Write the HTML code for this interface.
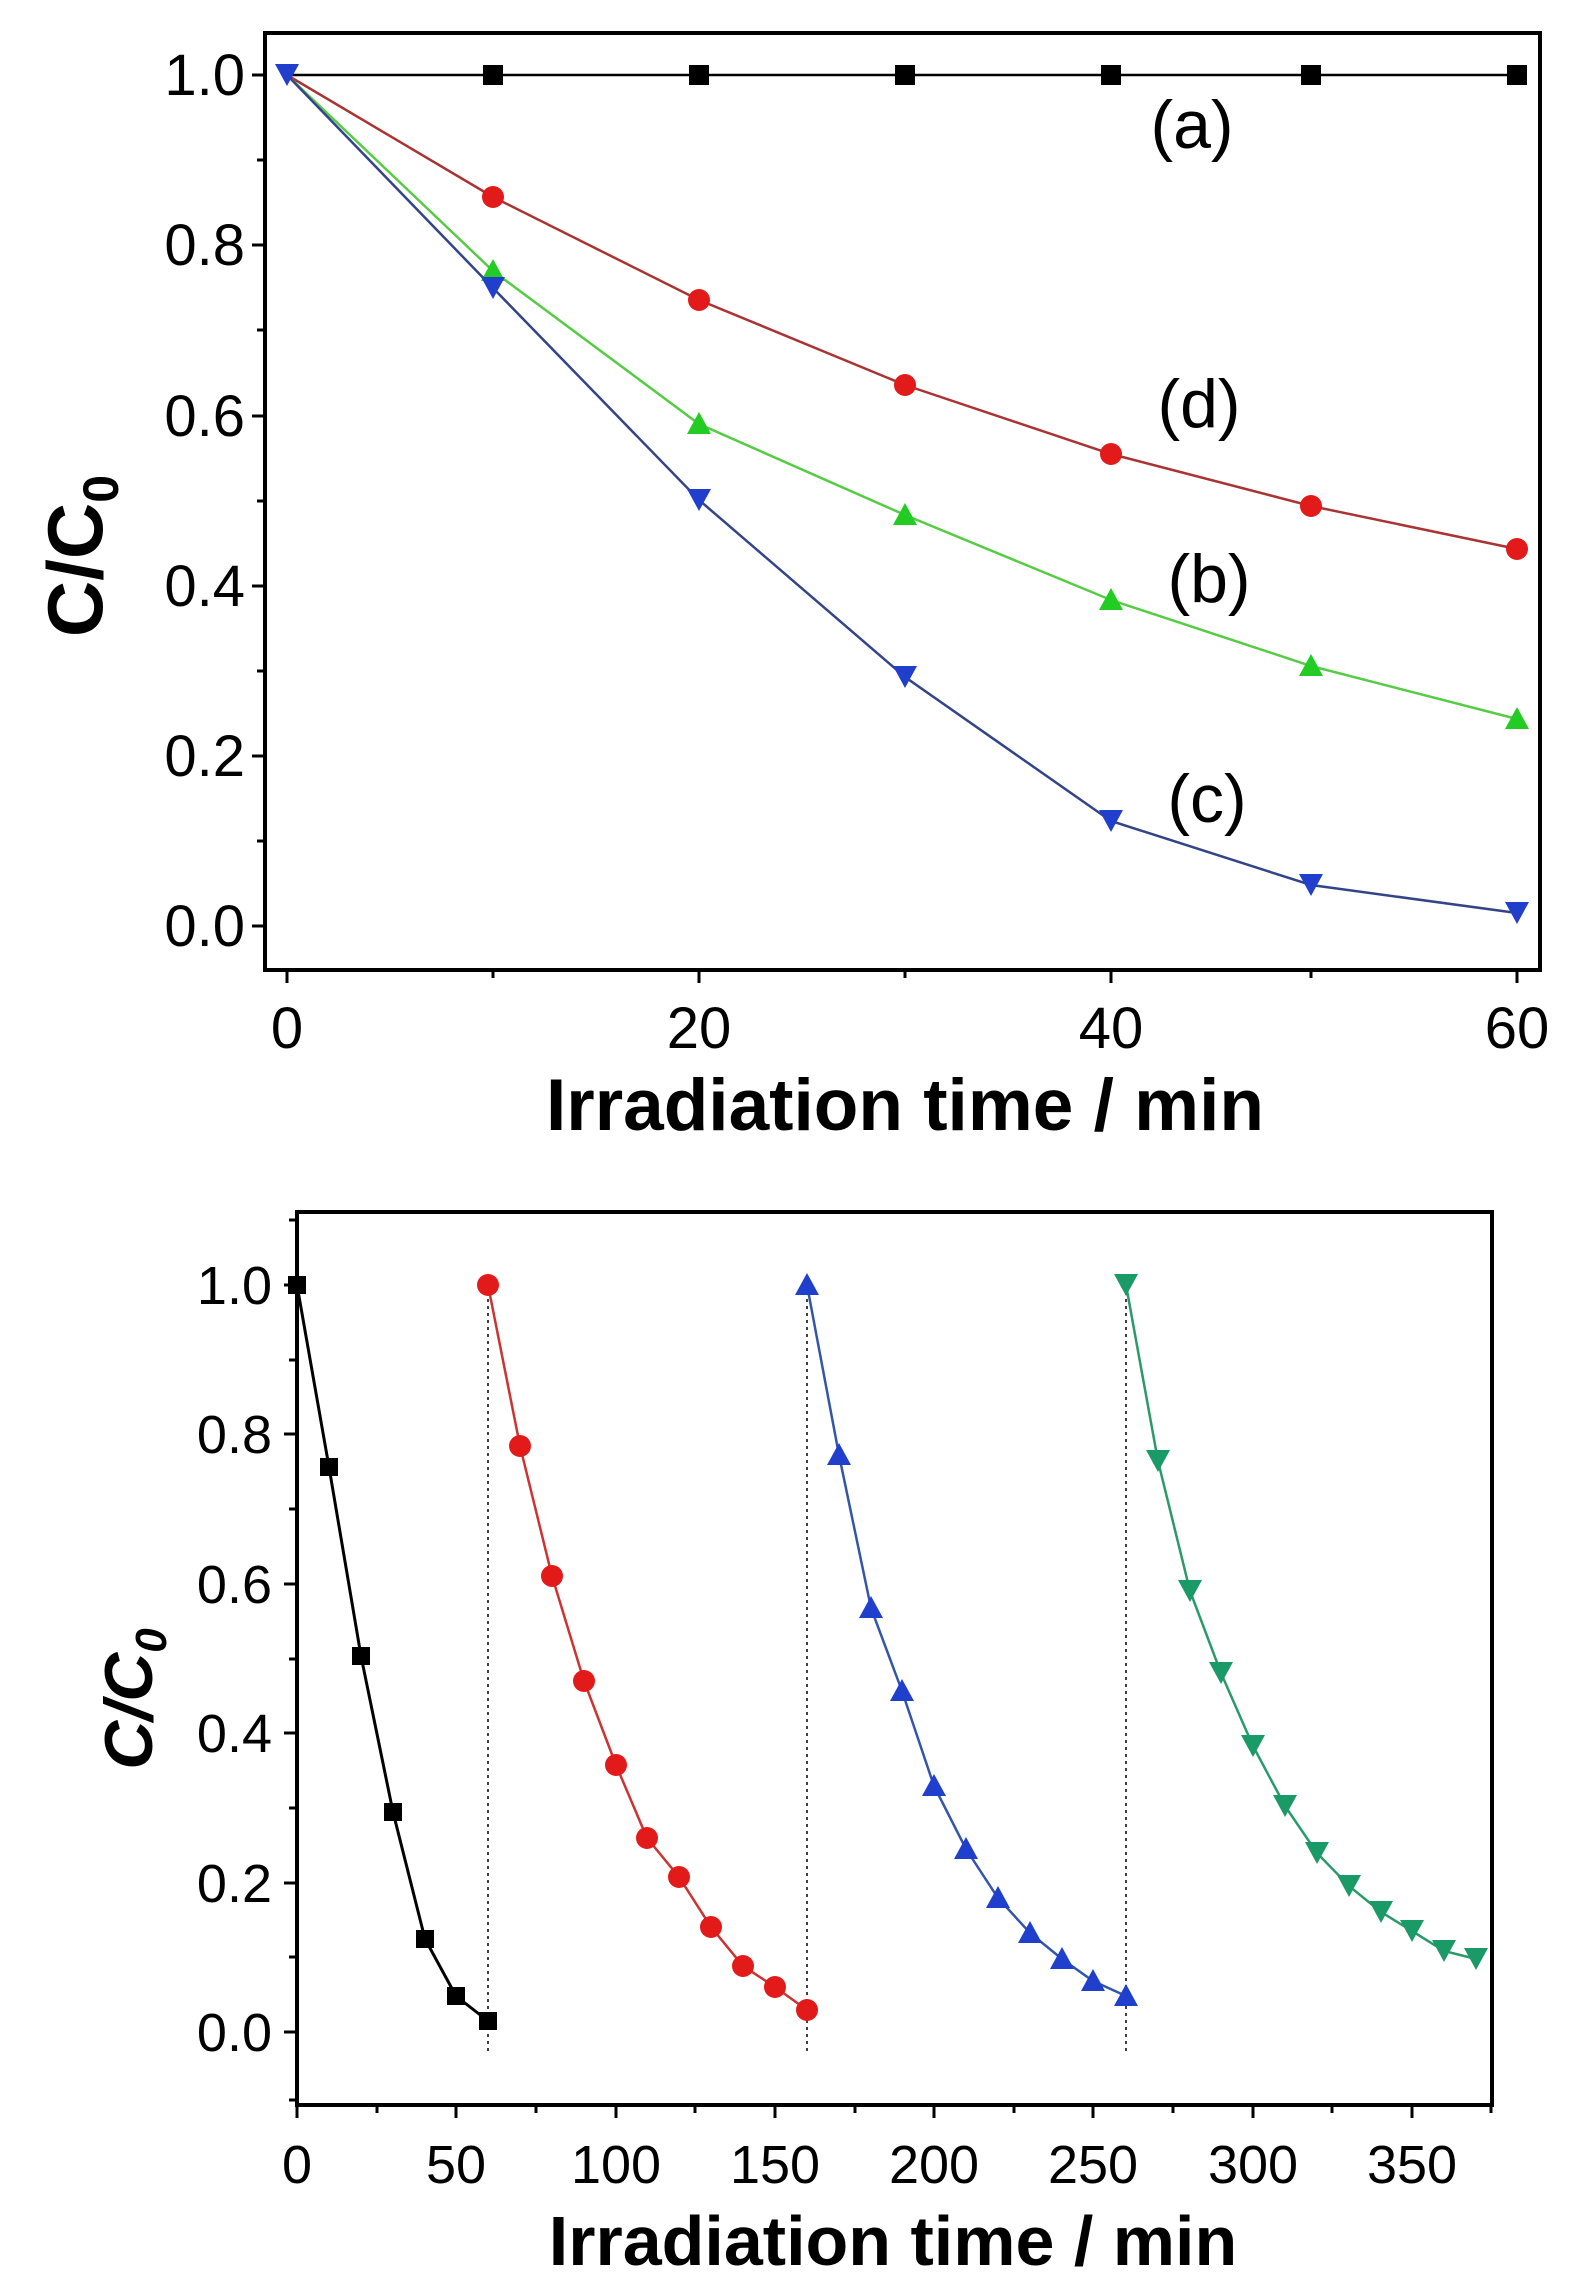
<!DOCTYPE html>
<html><head><meta charset="utf-8"><style>
html,body{margin:0;padding:0;background:#fff;}
svg{display:block;font-family:"Liberation Sans",Arial,sans-serif;}
</style></head><body>
<svg width="1571" height="2277" viewBox="0 0 1571 2277" xmlns="http://www.w3.org/2000/svg">
<rect width="1571" height="2277" fill="#fff"/>
<!-- TOP PLOT -->
<g id="top">
<rect x="265" y="33" width="1275" height="937" fill="none" stroke="#000" stroke-width="4"/>
<g stroke="#000" stroke-width="3">
<line x1="265" y1="75" x2="252" y2="75"/><line x1="265" y1="245" x2="252" y2="245"/><line x1="265" y1="416" x2="252" y2="416"/><line x1="265" y1="586" x2="252" y2="586"/><line x1="265" y1="756" x2="252" y2="756"/><line x1="265" y1="926" x2="252" y2="926"/>
<line x1="265" y1="160" x2="257" y2="160"/><line x1="265" y1="330" x2="257" y2="330"/><line x1="265" y1="501" x2="257" y2="501"/><line x1="265" y1="671" x2="257" y2="671"/><line x1="265" y1="841" x2="257" y2="841"/>
<line x1="287" y1="970" x2="287" y2="983"/><line x1="699" y1="970" x2="699" y2="983"/><line x1="1111" y1="970" x2="1111" y2="983"/><line x1="1517" y1="970" x2="1517" y2="983"/>
<line x1="493" y1="970" x2="493" y2="978"/><line x1="905" y1="970" x2="905" y2="978"/><line x1="1311" y1="970" x2="1311" y2="978"/>
</g>
<g font-size="58" text-anchor="end" fill="#000">
<text x="245" y="95">1.0</text><text x="245" y="265">0.8</text><text x="245" y="436">0.6</text><text x="245" y="606">0.4</text><text x="245" y="776">0.2</text><text x="245" y="946">0.0</text>
</g>
<g font-size="58" text-anchor="middle" fill="#000">
<text x="287" y="1048">0</text><text x="699" y="1048">20</text><text x="1111" y="1048">40</text><text x="1517" y="1048">60</text>
</g>
<text x="905" y="1130" font-size="73" font-weight="bold" text-anchor="middle">Irradiation time / min</text>
<text transform="translate(102,556) rotate(-90)" font-size="78" font-weight="bold" text-anchor="middle">C/C<tspan font-size="50" dy="16">0</tspan></text>
<polyline points="287,75 1517,75" fill="none" stroke="#000" stroke-width="2.5"/>
<g fill="#000"><rect x="483" y="65" width="20" height="20"/><rect x="689" y="65" width="20" height="20"/><rect x="895" y="65" width="20" height="20"/><rect x="1101" y="65" width="20" height="20"/><rect x="1301" y="65" width="20" height="20"/><rect x="1507" y="65" width="20" height="20"/></g>
<polyline points="287,75 493,197 699,300 905,385 1111,454 1311,506 1517,549" fill="none" stroke="#a33" stroke-width="2.5"/>
<g fill="#e31a1a"><circle cx="493" cy="197" r="11"/><circle cx="699" cy="300" r="11"/><circle cx="905" cy="385" r="11"/><circle cx="1111" cy="454" r="11"/><circle cx="1311" cy="506" r="11"/><circle cx="1517" cy="549" r="11"/></g>
<polyline points="287,75 493,271 699,424 905,515 1111,600 1311,666 1517,719" fill="none" stroke="#55cc44" stroke-width="2.5"/>
<g fill="#22cc22">
<polygon points="493,259 505,281 481,281"/><polygon points="699,412 711,434 687,434"/><polygon points="905,503 917,525 893,525"/><polygon points="1111,588 1123,610 1099,610"/><polygon points="1311,654 1323,676 1299,676"/><polygon points="1517,707 1529,729 1505,729"/>
</g>
<polyline points="287,75 493,288 699,500 905,677 1111,821 1311,885 1517,913" fill="none" stroke="#334488" stroke-width="2.5"/>
<g fill="#1f3fcc">
<polygon points="287,86 275,64 299,64"/>
<polygon points="493,299 481,277 505,277"/><polygon points="699,511 687,489 711,489"/><polygon points="905,688 893,666 917,666"/><polygon points="1111,832 1099,810 1123,810"/><polygon points="1311,896 1299,874 1323,874"/><polygon points="1517,924 1505,902 1529,902"/>
</g>
<g font-size="68" fill="#000" text-anchor="middle">
<text x="1192" y="148">(a)</text><text x="1199" y="427">(d)</text><text x="1209" y="602">(b)</text><text x="1207" y="822">(c)</text>
</g>
</g>
<!-- BOTTOM PLOT -->
<g id="bottom">
<rect x="297" y="1212" width="1195" height="893" fill="none" stroke="#000" stroke-width="4"/>
<g stroke="#000" stroke-width="3">
<line x1="297" y1="1285" x2="284" y2="1285"/><line x1="297" y1="1434" x2="284" y2="1434"/><line x1="297" y1="1584" x2="284" y2="1584"/><line x1="297" y1="1733" x2="284" y2="1733"/><line x1="297" y1="1883" x2="284" y2="1883"/><line x1="297" y1="2032" x2="284" y2="2032"/>
<line x1="297" y1="1360" x2="289" y2="1360"/><line x1="297" y1="1509" x2="289" y2="1509"/><line x1="297" y1="1659" x2="289" y2="1659"/><line x1="297" y1="1808" x2="289" y2="1808"/><line x1="297" y1="1957" x2="289" y2="1957"/><line x1="297" y1="1220" x2="289" y2="1220"/><line x1="297" y1="2100" x2="289" y2="2100"/>
</g>
<g stroke="#000" stroke-width="3">
<line x1="297" y1="2105" x2="297" y2="2118"/><line x1="456" y1="2105" x2="456" y2="2118"/><line x1="616" y1="2105" x2="616" y2="2118"/><line x1="775" y1="2105" x2="775" y2="2118"/><line x1="934" y1="2105" x2="934" y2="2118"/><line x1="1093" y1="2105" x2="1093" y2="2118"/><line x1="1253" y1="2105" x2="1253" y2="2118"/><line x1="1412" y1="2105" x2="1412" y2="2118"/>
<line x1="377" y1="2105" x2="377" y2="2113"/><line x1="536" y1="2105" x2="536" y2="2113"/><line x1="695" y1="2105" x2="695" y2="2113"/><line x1="855" y1="2105" x2="855" y2="2113"/><line x1="1014" y1="2105" x2="1014" y2="2113"/><line x1="1173" y1="2105" x2="1173" y2="2113"/><line x1="1332" y1="2105" x2="1332" y2="2113"/><line x1="1491" y1="2105" x2="1491" y2="2113"/>
</g>
<g font-size="54" text-anchor="end">
<text x="272" y="1304">1.0</text><text x="272" y="1453">0.8</text><text x="272" y="1603">0.6</text><text x="272" y="1752">0.4</text><text x="272" y="1902">0.2</text><text x="272" y="2051">0.0</text>
</g>
<g font-size="54" text-anchor="middle">
<text x="297" y="2183">0</text><text x="456" y="2183">50</text><text x="616" y="2183">100</text><text x="775" y="2183">150</text><text x="934" y="2183">200</text><text x="1093" y="2183">250</text><text x="1253" y="2183">300</text><text x="1412" y="2183">350</text>
</g>
<text x="893" y="2265" font-size="70" font-weight="bold" text-anchor="middle">Irradiation time / min</text>
<text transform="translate(152,1699) rotate(-90)" font-size="68" font-weight="bold" font-style="italic" text-anchor="middle">C/C<tspan font-size="44" dy="14">0</tspan></text>
<g stroke="#000" stroke-width="1.5" stroke-dasharray="3,4">
<line x1="488" y1="1285" x2="488" y2="2052"/><line x1="807" y1="1285" x2="807" y2="2052"/><line x1="1126" y1="1285" x2="1126" y2="2052"/>
</g>
<polyline points="297,1285 329,1467 361,1656 393,1812 425,1939 456,1996 488,2021" fill="none" stroke="#000" stroke-width="3"/>
<g fill="#000"><rect x="288" y="1276" width="18" height="18"/><rect x="320" y="1458" width="18" height="18"/><rect x="352" y="1647" width="18" height="18"/><rect x="384" y="1803" width="18" height="18"/><rect x="416" y="1930" width="18" height="18"/><rect x="447" y="1987" width="18" height="18"/><rect x="479" y="2012" width="18" height="18"/></g>
<polyline points="488,1285 520,1446 552,1576 584,1681 616,1765 647,1838 679,1877 711,1927 743,1966 775,1987 807,2010" fill="none" stroke="#c33" stroke-width="2.5"/>
<g fill="#e31a1a"><circle cx="488" cy="1285" r="11"/><circle cx="520" cy="1446" r="11"/><circle cx="552" cy="1576" r="11"/><circle cx="584" cy="1681" r="11"/><circle cx="616" cy="1765" r="11"/><circle cx="647" cy="1838" r="11"/><circle cx="679" cy="1877" r="11"/><circle cx="711" cy="1927" r="11"/><circle cx="743" cy="1966" r="11"/><circle cx="775" cy="1987" r="11"/><circle cx="807" cy="2010" r="11"/></g>
<polyline points="807,1285 839,1455 871,1608 902,1691 934,1786 966,1849 998,1898 1030,1933 1062,1959 1093,1981 1126,1996" fill="none" stroke="#3355aa" stroke-width="2.5"/>
<g fill="#1f3fcc">
<polygon points="807,1273 819,1295 795,1295"/><polygon points="839,1443 851,1465 827,1465"/><polygon points="871,1596 883,1618 859,1618"/><polygon points="902,1679 914,1701 890,1701"/><polygon points="934,1774 946,1796 922,1796"/><polygon points="966,1837 978,1859 954,1859"/><polygon points="998,1886 1010,1908 986,1908"/><polygon points="1030,1921 1042,1943 1018,1943"/><polygon points="1062,1947 1074,1969 1050,1969"/><polygon points="1093,1969 1105,1991 1081,1991"/><polygon points="1126,1984 1138,2006 1114,2006"/>
</g>
<polyline points="1126,1285 1158,1461 1190,1591 1221,1673 1253,1746 1285,1806 1317,1853 1349,1886 1381,1912 1412,1931 1444,1951 1476,1959" fill="none" stroke="#2a9a6a" stroke-width="2.5"/>
<g fill="#1a9a66">
<polygon points="1126,1296 1114,1274 1138,1274"/><polygon points="1158,1472 1146,1450 1170,1450"/><polygon points="1190,1602 1178,1580 1202,1580"/><polygon points="1221,1684 1209,1662 1233,1662"/><polygon points="1253,1757 1241,1735 1265,1735"/><polygon points="1285,1817 1273,1795 1297,1795"/><polygon points="1317,1864 1305,1842 1329,1842"/><polygon points="1349,1897 1337,1875 1361,1875"/><polygon points="1381,1923 1369,1901 1393,1901"/><polygon points="1412,1942 1400,1920 1424,1920"/><polygon points="1444,1962 1432,1940 1456,1940"/><polygon points="1476,1970 1464,1948 1488,1948"/>
</g>
</g>
</svg>
</body></html>
